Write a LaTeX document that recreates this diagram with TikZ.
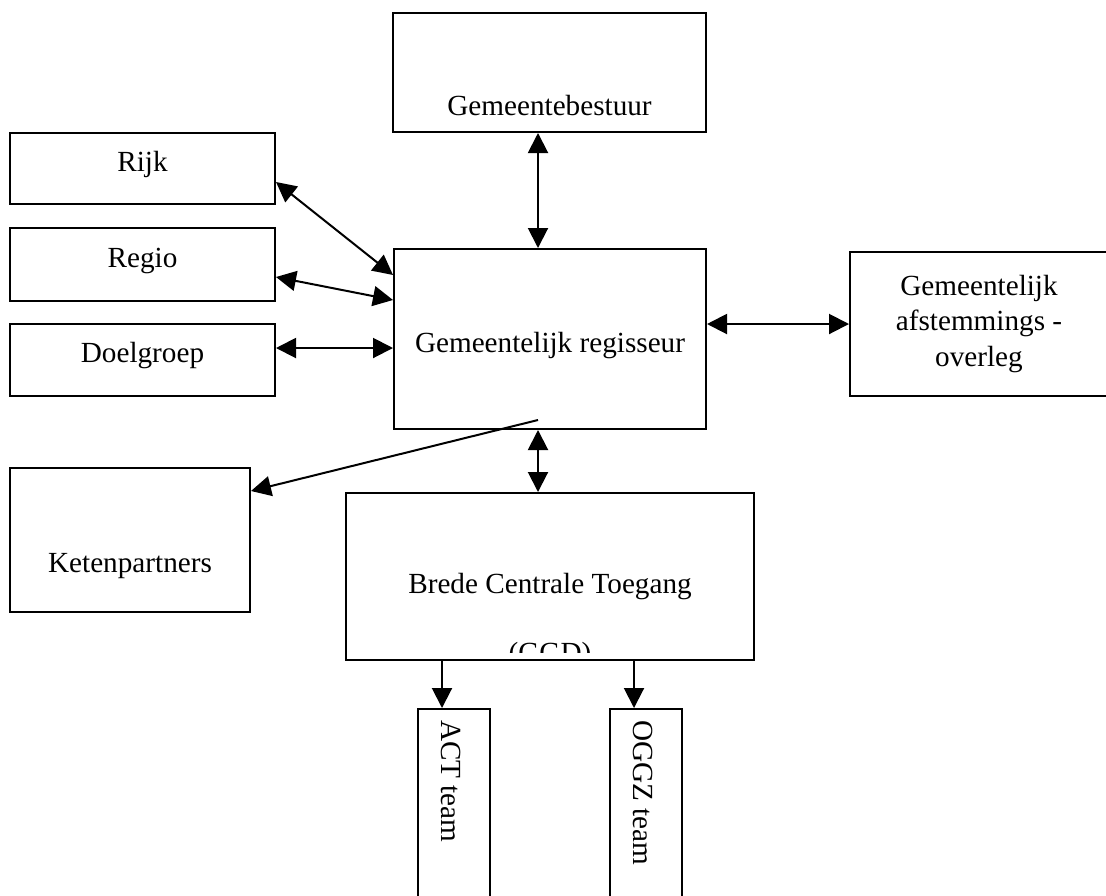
\documentclass[tikz,border=0pt]{standalone}
\usepackage{fontspec}
\setmainfont{Liberation Serif}
\usetikzlibrary{arrows.meta}

\begin{document}
\begin{tikzpicture}[x=0.5pt,y=-0.5pt,>={Triangle[length=10pt,width=10pt]},
                    line width=1pt,font=\fontsize{14.6}{17.8}\selectfont]
  \tikzstyle{box}=[draw=black,rectangle,inner sep=0pt,align=center]
  \tikzstyle{side}=[box,minimum width=132.5pt,text height=7pt,text depth=4.5pt]
  \tikzstyle{txt}=[anchor=base,inner sep=0pt]

  \useasboundingbox (0,0) rectangle (1106,895);
  \clip (0,0) rectangle (1106,895);

  \node[box,minimum width=156.5pt,minimum height=59.5pt] (bestuur) at (549.5,72.5) {};
  \node[txt] (bestuurtxt) at ([yshift=-21.25pt]bestuur.center) {Gemeentebestuur};

  \node[side,minimum height=35.5pt] (rijk) at (142.5,168.5) {Rijk};
  \node[side,minimum height=36.5pt] (regio) at (142.5,264.5) {Regio};
  \node[side,minimum height=36pt] (doel) at (142.5,360) {Doelgroep};

  \node[box,minimum width=156pt,minimum height=90pt,text height=17pt,text depth=4pt]
    (regisseur) at (550,339) {Gemeentelijk regisseur};
  \node[box,minimum width=129pt,minimum height=72pt] (overleg) at (979,324)
    {Gemeentelijk\\afstemmings -\\overleg};

  \node[box,minimum width=120pt,minimum height=72pt] (keten) at (130,540) {};
  \node[txt] (ketentxt) at ([yshift=-16pt]keten.center) {Ketenpartners};

  \node[box,minimum width=204pt,minimum height=83.5pt] (bct) at (550,576.5) {};
  \node[txt] (bcttxt) at ([yshift=-8.25pt]bct.center) {Brede Centrale Toegang};
  \begin{scope}
    \clip (bct.north west) rectangle ([yshift=4.5pt]bct.south east);
    \node[txt] (ggd) at ([yshift=-43pt]bct.center) {(GGD)};
  \end{scope}

  \node[box,minimum width=36pt,minimum height=125.5pt] (act) at (454,834.5) {};
  \node[txt,rotate=-90,anchor=base west] (acttxt) at ([xshift=-6.5pt,yshift=-5.5pt]act.north)
    {ACT team};
  \node[box,minimum width=36pt,minimum height=125.5pt] (oggz) at (646,834.5) {};
  \node[txt,rotate=-90,anchor=base west] (oggztxt) at ([xshift=-6.5pt,yshift=-5.5pt]oggz.north)
    {OGGZ team};

  \coordinate (axis) at (538,0);
  \coordinate (ketenout) at (538,420);
  \coordinate (actin) at ([xshift=-6pt]act.north);
  \coordinate (oggzin) at ([xshift=-6pt]oggz.north);

  \path[<->] (bestuur.south -| axis) edge (regisseur.north -| axis)
        ([yshift=-6.75pt]rijk.east) edge ([yshift=32pt]regisseur.west)
        ([yshift=-6.25pt]regio.east) edge ([yshift=19.5pt]regisseur.west)
        ([yshift=6pt]doel.east) edge ([yshift=-4.5pt]regisseur.west)
        (regisseur.east |- overleg.west) edge (overleg.west)
        (regisseur.south -| axis) edge (bct.north -| axis);
  \path[->] (ketenout) edge ([yshift=24.5pt]keten.east)
        (bct.south -| actin) edge (actin)
        (bct.south -| oggzin) edge (oggzin);
\end{tikzpicture}
\end{document}
